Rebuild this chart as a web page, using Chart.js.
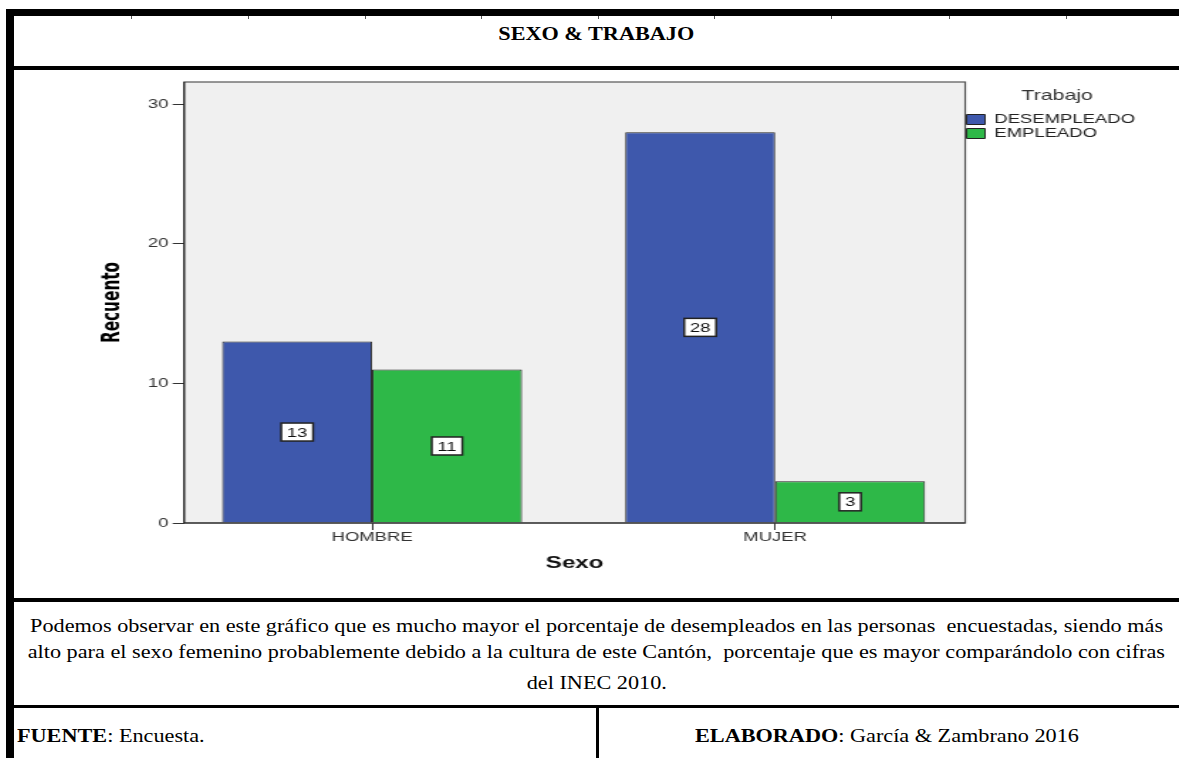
<!DOCTYPE html>
<html lang="es">
<head>
<meta charset="UTF-8">
<title>Sexo & Trabajo</title>
<script src="https://cdn.jsdelivr.net/npm/chart.js"></script>
<style>
  body { margin: 0; background: #fff; }
  #page { position: relative; width: 1179px; height: 758px; overflow: hidden; background: #fff; }
  .rule { position: absolute; background: #000; }
  .nick { position: absolute; top: 16px; width: 1px; height: 3px; background: #555; }
  .txt { position: absolute; white-space: pre; font-family: "Liberation Serif", "Times New Roman", serif;
         font-size: 18.67px; line-height: 22px; color: #000; }
  .txt span { display: inline-block; }
  .center { left: 14px; width: 1165px; text-align: center; }
  .center span { transform-origin: 50% 50%; }
  .left span { transform-origin: 0 50%; }
  /* the chart was pasted stretched sideways, so draw it narrow and widen it */
  #chartBox { position: absolute; left: 14px; top: 70px; width: 820px; height: 528px;
              transform: scaleX(1.4207); transform-origin: 0 0; }
</style>
</head>
<body>
<div id="page">
  <!-- table rules -->
  <div class="rule" style="left:6px; top:9px; width:1173px; height:7px;"></div>
  <div class="rule" style="left:6px; top:9px; width:8px; height:749px;"></div>
  <div class="rule" style="left:6px; top:66px; width:1173px; height:4px;"></div>
  <div class="rule" style="left:6px; top:598px; width:1173px; height:4px;"></div>
  <div class="rule" style="left:6px; top:705px; width:1173px; height:3px;"></div>
  <div class="rule" style="left:596px; top:705px; width:3px; height:53px;"></div>
  <!-- little ruler nicks under the top border -->
  <div class="nick" style="left:131px;"></div>
  <div class="nick" style="left:248px;"></div>
  <div class="nick" style="left:365px;"></div>
  <div class="nick" style="left:481px;"></div>
  <div class="nick" style="left:598px;"></div>
  <div class="nick" style="left:714px;"></div>
  <div class="nick" style="left:831px;"></div>
  <div class="nick" style="left:949px;"></div>
  <div class="nick" style="left:1066px;"></div>

  <div class="txt center" style="top:23px;"><span><b>SEXO &amp; TRABAJO</b></span></div>

  <div class="txt center" style="top:615px;"><span id="fitLine">Podemos observar en este gráfico que es mucho mayor el porcentaje de desempleados en las personas  encuestadas, siendo más</span></div>
  <div class="txt center" style="top:641px;"><span>alto para el sexo femenino probablemente debido a la cultura de este Cantón,  porcentaje que es mayor comparándolo con cifras</span></div>
  <div class="txt center" style="top:672px;"><span>del INEC 2010.</span></div>

  <div class="txt left" style="left:17px; top:725px;"><span><b>FUENTE</b>: Encuesta.</span></div>
  <div class="txt left" style="left:695px; top:725px;"><span><b>ELABORADO</b>: García &amp; Zambrano 2016</span></div>

  <div id="chartBox"><canvas id="myChart" width="820" height="528"></canvas></div>
</div>

<script>
  // widen the document text the same way the original page was stretched
  const s = 1133 / document.getElementById('fitLine').getBoundingClientRect().width;
  document.querySelectorAll('.txt span').forEach(el => { el.style.transform = 'scaleX(' + s + ')'; });

  // Data
  const categories = ['HOMBRE', 'MUJER'];
  const seriesNames = ['DESEMPLEADO', 'EMPLEADO'];
  const desempleado = [13, 28];
  const empleado = [11, 3];
  const yTicks = [0, 10, 20, 30];
  const yMax = 31.6;

  const series = [desempleado, empleado];
  const toPoints = arr => arr.map((v, i) => ({ x: i, y: v }));

  Chart.defaults.font.family = '"Liberation Sans", Arial, sans-serif';

  // grey plot background + frame
  const plotFrame = {
    id: 'plotFrame',
    beforeDraw(chart) {
      const { ctx, chartArea: a } = chart;
      ctx.save();
      ctx.fillStyle = '#f0f0f0';
      ctx.fillRect(a.left, a.top, a.width, a.height);
      ctx.restore();
    },
    afterDatasetsDraw(chart) {
      const { ctx, chartArea: a } = chart;
      ctx.save();
      ctx.strokeStyle = '#555';
      ctx.lineWidth = 1.2;
      ctx.strokeRect(a.left, a.top, a.width, a.height);
      ctx.strokeStyle = '#222';
      ctx.beginPath();
      ctx.moveTo(a.left, a.top);
      ctx.lineTo(a.left, a.bottom);
      ctx.lineTo(a.right, a.bottom);
      ctx.stroke();
      ctx.restore();
    }
  };

  // white boxed counts in the middle of each bar
  const valueBoxes = {
    id: 'valueBoxes',
    afterDatasetsDraw(chart) {
      const { ctx } = chart;
      ctx.save();
      ctx.font = '13px "Liberation Sans", Arial, sans-serif';
      ctx.textAlign = 'center';
      ctx.textBaseline = 'middle';
      chart.data.datasets.forEach((ds, i) => {
        chart.getDatasetMeta(i).data.forEach((bar, j) => {
          const txt = String(series[i][j]);
          const w = ctx.measureText(txt).width + 8;
          const h = 18;
          const cx = bar.x;
          const cy = (bar.y + bar.base) / 2;
          ctx.fillStyle = '#fff';
          ctx.fillRect(cx - w / 2, cy - h / 2, w, h);
          ctx.strokeStyle = '#222';
          ctx.lineWidth = 1.5;
          ctx.strokeRect(cx - w / 2, cy - h / 2, w, h);
          ctx.fillStyle = '#111';
          ctx.fillText(txt, cx, cy + 1);
        });
      });
      ctx.restore();
    }
  };

  const ctx = document.getElementById('myChart').getContext('2d');
  new Chart(ctx, {
    type: 'bar',
    data: {
      datasets: [
        { label: seriesNames[0], data: toPoints(desempleado), backgroundColor: '#3e58ac', borderColor: '#222', borderWidth: 1 },
        { label: seriesNames[1], data: toPoints(empleado), backgroundColor: '#2eb848', borderColor: '#222', borderWidth: 1 }
      ]
    },
    options: {
      responsive: false,
      animation: false,
      layout: { padding: { left: 0, top: 12, right: 21, bottom: 0 } },
      datasets: { bar: { categoryPercentage: 0.744, barPercentage: 1.0 } },
      plugins: {
        tooltip: { enabled: false },
        legend: {
          position: 'right',
          align: 'start',
          title: { display: true, text: 'Trabajo', color: '#333', font: { size: 15 }, padding: { top: 6, bottom: 6 } },
          labels: { boxWidth: 13, boxHeight: 10, padding: 1, color: '#222', font: { size: 13 } }
        }
      },
      scales: {
        x: {
          type: 'linear',
          min: -0.4665,
          max: 1.4715,
          offset: false,
          afterFit(scale) { scale.height = 75; },
          afterBuildTicks(scale) { scale.ticks = categories.map((c, i) => ({ value: i })); },
          border: { display: false },
          grid: { offset: false, drawOnChartArea: false, tickLength: 7, color: '#333' },
          ticks: { padding: 0, color: '#333', font: { size: 13 }, callback: v => categories[v] },
          title: { display: true, text: 'Sexo', color: '#111', font: { size: 17, weight: 'bold' }, padding: { top: 0, bottom: 24 } }
        },
        y: {
          min: 0,
          max: yMax,
          afterFit(scale) { scale.width = 119.7; },
          afterBuildTicks(scale) { scale.ticks = yTicks.map(v => ({ value: v })); },
          border: { display: false },
          grid: { drawOnChartArea: false, tickLength: 8, color: '#333' },
          ticks: { padding: 3, color: '#333', font: { size: 13 } },
          title: {
            display: true, text: 'Recuento', color: '#000',
            font: { family: '"Liberation Sans Narrow", "Arial Narrow", "DejaVu Sans Condensed", sans-serif', size: 17, weight: 'bold' },
            padding: { top: 59.5, bottom: 0 }
          }
        }
      }
    },
    plugins: [plotFrame, valueBoxes]
  });
</script>
</body>
</html>
